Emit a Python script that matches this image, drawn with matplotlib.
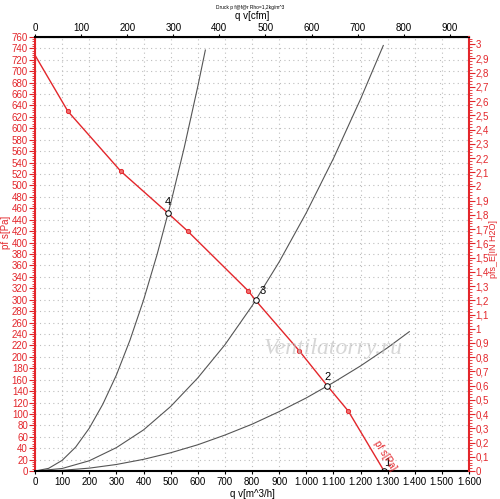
import matplotlib
matplotlib.use("Agg")
import matplotlib.pyplot as plt
from matplotlib.ticker import MultipleLocator, FuncFormatter

plt.rcParams['font.family'] = ['Liberation Sans', 'DejaVu Sans']

RED = '#e3262b'
PA_PER_INH2O = 249.089
M3H_PER_CFM = 1.699

# fan curve (red), q in m^3/h, p in Pa
fan_q = [0, 121, 316, 489, 563, 787, 813, 975, 1078, 1155, 1287]
fan_p = [728, 630, 525, 452, 420, 315, 299, 210, 149, 105, 0]
# red markers on the fan curve
mark_q = [121, 316, 563, 787, 975, 1155]
mark_p = [630, 525, 420, 315, 210, 105]

# system curves (gray)
sys4_q = [0, 50, 100, 150, 200, 250, 300, 350, 400, 450, 500, 550, 600, 628]
sys4_p = [0, 4.7, 18.7, 42, 75, 117, 168, 229, 299, 379, 468, 566, 673, 737]
sys3_q = [0, 100, 200, 300, 400, 500, 600, 700, 800, 900, 1000, 1100, 1200, 1284]
sys3_p = [0, 4.5, 18, 41, 72, 113, 163, 221, 289, 366, 452, 547, 651, 745]
sys2_q = [0, 100, 200, 300, 400, 500, 600, 700, 800, 900, 1000, 1100, 1200, 1300, 1380]
sys2_p = [0, 1.3, 5.1, 11.5, 20.5, 32, 46, 63, 82, 104, 128, 155, 184, 216, 244]

# operating points
op_names = ['1', '2', '3', '4']
op_q = [1287, 1078, 813, 489]
op_p = [0, 149, 299, 452]

fig = plt.figure(figsize=(5.0, 4.99), dpi=100)
ax = fig.add_axes([0.07, 0.056, 0.868, 0.870])

ax.set_xlim(0, 1600)
ax.set_ylim(0, 760)

for q, p in [(sys4_q, sys4_p), (sys3_q, sys3_p), (sys2_q, sys2_p)]:
    ax.plot(q, p, color='#555555', lw=0.8)

ax.plot(fan_q, fan_p, color=RED, lw=1.0)
ax.plot(mark_q, mark_p, 'o', ms=3, mfc='#f07070', mec=RED, mew=0.7, ls='none')
ax.plot(op_q, op_p, 'o', ms=4, mfc='white', mec='black', mew=0.7, ls='none')

offsets = {'1': (2, 2), '2': (0, 3), '3': (5, 3), '4': (0, 4)}
for n, q, p in zip(op_names, op_q, op_p):
    dx, dy = offsets[n]
    ax.annotate(n, (q, p), xytext=(dx, dy), textcoords='offset points',
                ha='center', va='bottom', fontsize=8, color='black')

ax.text(1292, 28, 'pf s[Pa]', color=RED, fontsize=7, rotation=-58,
        ha='center', va='center')

# watermark
ax.text(1100, 215, 'Ventilatorry.ru', fontsize=17, family='Liberation Serif',
        style='italic', color='#bbbbbb', alpha=0.6, ha='center', va='center')

# grid
ax.set_xticks(range(0, 1601, 100))
ax.set_yticks(range(0, 761, 20))
ax.grid(True, color='#bdbdbd', ls=(0, (1, 3)), lw=0.8)

# axes styling
ax.spines['left'].set_color(RED)
ax.spines['left'].set_linewidth(1.5)
for s in ['bottom', 'top']:
    ax.spines[s].set_color('black')
    ax.spines[s].set_linewidth(1.5)
ax.spines['right'].set_visible(False)

ax.yaxis.set_minor_locator(MultipleLocator(4))
ax.tick_params(axis='y', which='major', colors=RED, labelcolor=RED,
               labelsize=7, length=4, width=0.8, pad=1)
ax.tick_params(axis='y', which='minor', colors=RED, length=2, width=0.6)
ax.tick_params(axis='x', which='major', labelsize=7, length=2, pad=2)
ax.xaxis.set_major_formatter(FuncFormatter(lambda v, _: f'{int(v):,}'.replace(',', '.')))

ax.set_ylabel('pf s[Pa]', color=RED, fontsize=7)
ax.yaxis.set_label_coords(-0.055, 0.55)
ax.set_xlabel('q v[m^3/h]', fontsize=7, labelpad=2)

# right axis in inH2O
axr = ax.twinx()
axr.set_ylim(0, 760 / PA_PER_INH2O)
axr.set_yticks([i / 10 for i in range(0, 31)])
axr.yaxis.set_minor_locator(MultipleLocator(0.02))
axr.yaxis.set_major_formatter(FuncFormatter(lambda v, _: f'{v:g}'.replace('.', ',')))
axr.spines['right'].set_color(RED)
axr.spines['right'].set_linewidth(1.5)
for s in ['left', 'top', 'bottom']:
    axr.spines[s].set_visible(False)
axr.tick_params(axis='y', which='major', colors=RED, labelcolor=RED,
                labelsize=7, length=4, width=0.8, pad=0.5)
axr.tick_params(axis='y', which='minor', colors=RED, length=2, width=0.6)
fig.text(0.986, 0.5, 'pfs_E[IN H2O]', color=RED, fontsize=6.5,
         rotation=90, ha='center', va='center')

# top axis in cfm
axt = ax.twiny()
axt.set_xlim(0, 1600 / M3H_PER_CFM)
axt.set_xticks(range(0, 901, 100))
for s in ['left', 'right', 'bottom']:
    axt.spines[s].set_visible(False)
axt.tick_params(axis='x', labelsize=7, length=2, pad=1)
axt.set_xlabel('q v[cfm]', fontsize=7, labelpad=3)

fig.text(0.5, 0.984, 'Druck p f@f@r Rho=1,2kg/m^3', fontsize=3.5,
         ha='center', va='center')

fig.savefig('out.png', dpi=100)
